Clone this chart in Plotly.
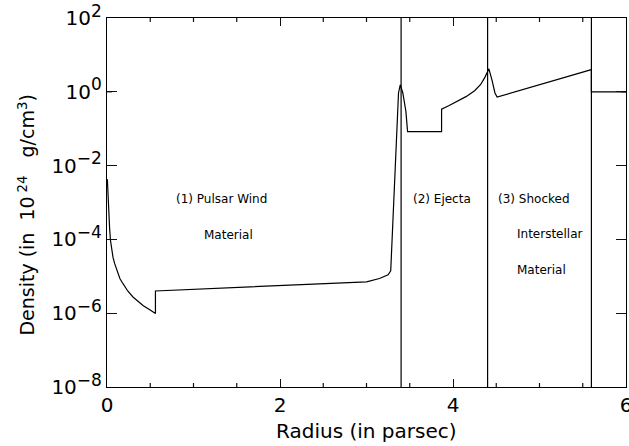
import math
import plotly.graph_objects as go

# Radial density profile of a composite supernova remnant
radius = [0.004, 0.008, 0.012, 0.017, 0.023, 0.03, 0.04, 0.055, 0.07, 0.089,
          0.12, 0.15, 0.185, 0.24, 0.30, 0.36, 0.42, 0.49, 0.56, 0.56,
          3.0, 3.15, 3.25, 3.28, 3.37, 3.39, 3.42, 3.455, 3.475,
          3.868, 3.868, 3.95, 4.05, 4.15, 4.25, 4.32, 4.37, 4.40, 4.415,
          4.45, 4.485, 4.51, 5.6, 5.6, 6.0]
density = [4.3e-3, 2.4e-3, 1.3e-3, 7.0e-4, 4.1e-4, 2.0e-4, 9.5e-5, 5.0e-5, 3.2e-5, 2.2e-5,
           1.3e-5, 8.6e-6, 6.3e-6, 4.0e-6, 2.75e-6, 2.1e-6, 1.6e-6, 1.25e-6, 9.8e-7, 4.0e-6,
           7.1e-6, 8.7e-6, 1.1e-5, 1.4e-5, 0.93, 1.55, 0.93, 0.30, 0.083,
           0.083, 0.34, 0.42, 0.55, 0.74, 1.07, 1.58, 2.5, 3.7, 4.2,
           2.1, 0.93, 0.72, 4.0, 1.0, 1.0]

# Region boundaries (parsec)
region_edges = [3.4, 4.4, 5.6]

y_tick_vals = [1e-8, 1e-6, 1e-4, 1e-2, 1e0, 1e2]
y_tick_exps = ["−8", "−6", "−4", "−2", "0", "2"]
y_minor_vals = [1e-7, 1e-5, 1e-3, 1e-1, 1e1]
x_tick_vals = [0, 2, 4, 6]
x_minor_vals = [0.5, 1.0, 1.5, 2.5, 3.0, 3.5, 4.5, 5.0, 5.5]
x_range = [0, 6]

# Region captions: (text, x in parsec, log10 density)
region_text = [
    ("(1) Pulsar Wind", 0.78, -2.9),
    ("Material", 1.10, -3.88),
    ("(2) Ejecta", 3.52, -2.9),
    ("(3) Shocked", 4.50, -2.9),
    ("Interstellar", 4.72, -3.86),
    ("Material", 4.72, -4.83),
]

FONT = "DejaVu Sans"
INK = "#000000"
TICK = "#111111"
NB = "\u00a0"
THIN = "\u2009"

fig = go.Figure()
fig.add_trace(go.Scatter(x=radius, y=density, mode="lines",
                         line=dict(color=INK, width=1.2), showlegend=False,
                         hoverinfo="skip"))

for edge in region_edges:
    fig.add_shape(type="line", xref="x", yref="paper", x0=edge, x1=edge, y0=0, y1=1,
                  line=dict(color=INK, width=1.2))

# short inward minor ticks on all four sides
tick_line = dict(color=TICK, width=1.2)
for v in y_minor_vals:
    ly = math.log10(v)
    fig.add_shape(type="line", xref="x", yref="y", xsizemode="pixel", xanchor=x_range[0],
                  x0=0, x1=5, y0=ly, y1=ly, line=tick_line)
    fig.add_shape(type="line", xref="x", yref="y", xsizemode="pixel", xanchor=x_range[1],
                  x0=-5, x1=0, y0=ly, y1=ly, line=tick_line)
for v in x_minor_vals:
    fig.add_shape(type="line", xref="x", yref="paper", ysizemode="pixel", yanchor=0,
                  y0=0, y1=4, x0=v, x1=v, line=tick_line)
    fig.add_shape(type="line", xref="x", yref="paper", ysizemode="pixel", yanchor=1,
                  y0=-4, y1=0, x0=v, x1=v, line=tick_line)

annotations = []
for text, xv, yv in region_text:
    annotations.append(dict(x=xv, y=yv, xref="x", yref="y", text=text, showarrow=False,
                            xanchor="left", yanchor="middle",
                            font=dict(family=FONT, size=12, color=INK)))

annotations.append(dict(x=0.5, y=-0.12, xref="paper", yref="paper",
                        text="Radius (in parsec)", showarrow=False,
                        xanchor="center", yanchor="middle",
                        font=dict(family=FONT, size=20, color=INK)))
y_title = ("Density (in" + NB * 2 + "10" + THIN + "<sup>24</sup>" + NB * 3
           + "g/cm<sup>3</sup>)")
annotations.append(dict(x=-0.155, y=0.466, xref="paper", yref="paper",
                        text=y_title, textangle=-90, showarrow=False,
                        xanchor="center", yanchor="middle",
                        font=dict(family=FONT, size=19, color=INK)))

fig.update_layout(
    width=629, height=446,
    margin=dict(l=107, r=3, t=18, b=59, autoexpand=False),
    paper_bgcolor="white", plot_bgcolor="white",
    annotations=annotations,
    font=dict(family=FONT, color=INK),
)

fig.update_xaxes(
    range=x_range, showgrid=False, zeroline=False,
    showline=True, linecolor=INK, linewidth=1.2, mirror="allticks",
    ticks="inside", ticklen=8, tickwidth=1.3, tickcolor=TICK,
    tickmode="array", tickvals=x_tick_vals, ticktext=[str(v) for v in x_tick_vals],
    tickfont=dict(family=FONT, size=20, color=INK), ticklabeloverflow="allow",
)

fig.update_yaxes(
    type="log", range=[-8, 2], showgrid=False, zeroline=False,
    showline=True, linecolor=INK, linewidth=1.2, mirror="allticks",
    ticks="inside", ticklen=10, tickwidth=1.3, tickcolor=TICK,
    tickmode="array", tickvals=y_tick_vals,
    ticktext=["10<sup><span style='font-size:17px'>%s</span></sup>" % e
              for e in y_tick_exps],
    tickfont=dict(family=FONT, size=20, color=INK),
)

fig.write_html("out.html")
